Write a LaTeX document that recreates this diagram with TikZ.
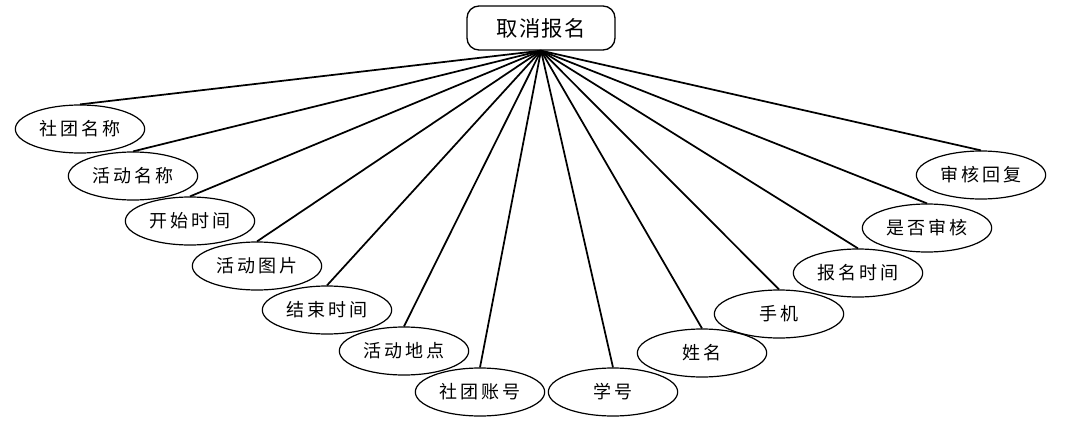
\documentclass[tikz,border=0pt]{standalone}
\usepackage{fontspec}
\setmainfont{Noto Sans CJK SC}
\newfontfamily\spacedcjk[LetterSpace=15]{Noto Sans CJK SC}
\newfontfamily\titlecjk[LetterSpace=6]{Noto Sans CJK SC}
\usepackage{tikz}
\usetikzlibrary{shapes,positioning}

\begin{document}
\begin{tikzpicture}[x=0.75pt, y=-0.75pt]
    % Stili dei nodi
    \tikzstyle{entity}=[rectangle, rounded corners=9pt, minimum width=111pt, minimum height=33pt, text centered, draw=black, line width=1pt, font=\titlecjk\fontsize{16}{16}\selectfont]
    \tikzstyle{attr}=[ellipse, minimum width=97pt, minimum height=36pt, inner sep=0pt, text centered, draw=black, line width=0.9pt, font=\spacedcjk\fontsize{13.5}{13.5}\selectfont]
    \tikzstyle{link}=[line width=1.3pt]

    \useasboundingbox (0,0) rectangle (1089,435);

    % Nodi
    \node (cancel) [entity] at (541,28) {取消报名};

    \node (club) [attr] at (80,129) {社团名称};
    \node (actname) [attr] at (133,176) {活动名称};
    \node (start) [attr] at (190,221) {开始时间};
    \node (pic) [attr] at (257,266) {活动图片};
    \node (end) [attr] at (327,310) {结束时间};
    \node (place) [attr] at (404,351) {活动地点};
    \node (account) [attr] at (480,392) {社团账号};
    \node (stuid) [attr] at (613,392) {学号};
    \node (name) [attr] at (702,353) {姓名};
    \node (phone) [attr] at (779,314) {手机};
    \node (regtime) [attr] at (858,273) {报名时间};
    \node (checked) [attr] at (927,228) {是否审核};
    \node (reply) [attr] at (981,175) {审核回复};

    % Collegamenti
    \foreach \a in {club,actname,start,pic,end,place,account,stuid,name,phone,regtime,checked,reply}
        \draw [link] (cancel.south) -- (\a.north);
\end{tikzpicture}
\end{document}
